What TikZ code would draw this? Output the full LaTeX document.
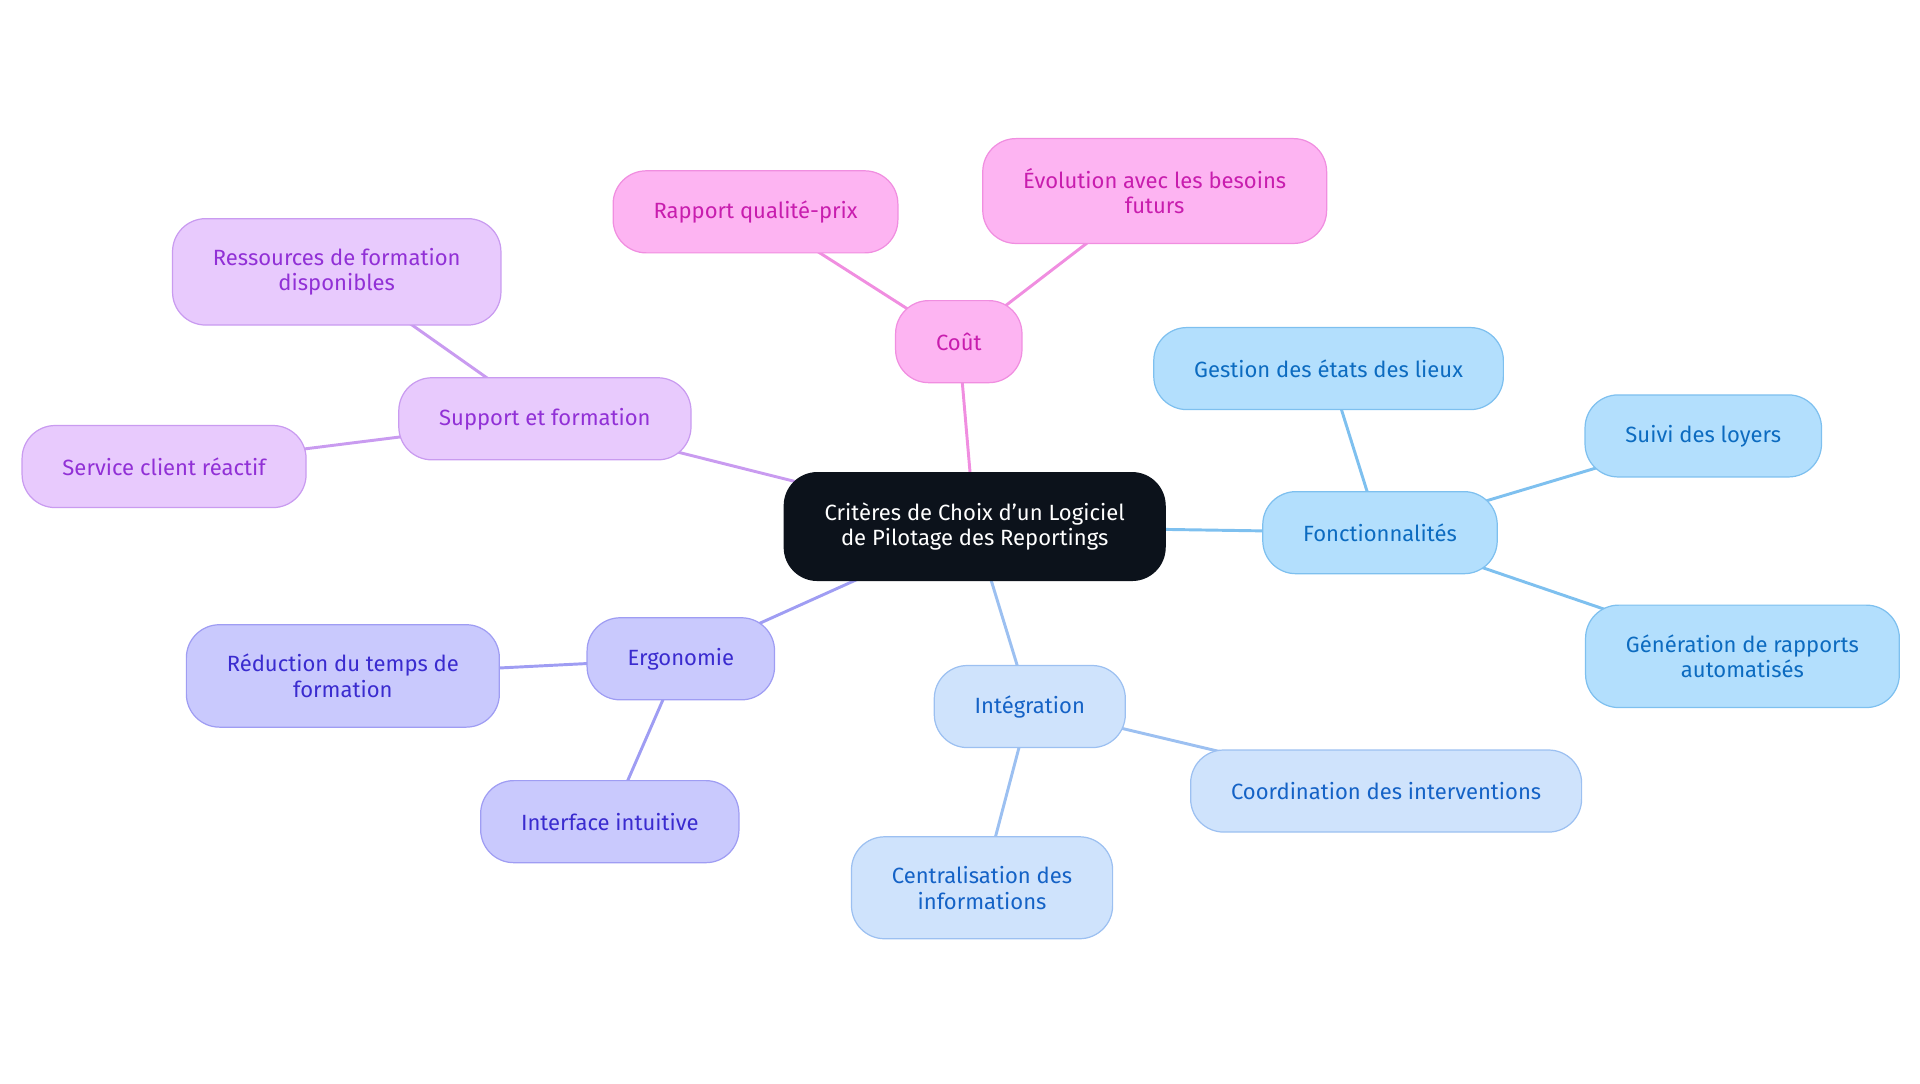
\documentclass[tikz,border=0pt]{standalone}
\usepackage{fontspec}
\setmainfont{Fira Sans}
\usepackage{xcolor}
\usetikzlibrary{positioning, backgrounds}

\definecolor{rootfill}{HTML}{0C121B}
\definecolor{pinkfill}{HTML}{FDB4F2}
\definecolor{pinkline}{HTML}{F08EE0}
\definecolor{pinktext}{HTML}{C81DAE}
\definecolor{lilacfill}{HTML}{E8CAFD}
\definecolor{lilacline}{HTML}{C99BF0}
\definecolor{lilactext}{HTML}{9130D6}
\definecolor{indigofill}{HTML}{C9C9FD}
\definecolor{indigoline}{HTML}{9F9DF3}
\definecolor{indigotext}{HTML}{3A2BCF}
\definecolor{paleblfill}{HTML}{CFE3FC}
\definecolor{paleblline}{HTML}{9CC0F1}
\definecolor{pagebltext}{HTML}{1462C6}
\definecolor{skyfill}{HTML}{B3DFFD}
\definecolor{skyline}{HTML}{7EC0EF}
\definecolor{skytext}{HTML}{0C6BC0}

\tikzset{
  bubble/.style={rounded corners=27pt, inner xsep=33pt, inner ysep=24pt,
    minimum height=67pt, align=center, line width=1pt, outer sep=0pt,
    font=\fontsize{18}{21}\selectfont},
  link/.style={line width=2.4pt}
}

\begin{document}
\begin{tikzpicture}[x=1pt,y=-1pt]
        \useasboundingbox (0,0) rectangle (1568,884.5);
        % centre
        \node[bubble, draw=rootfill, fill=rootfill, text=white, minimum height=88pt]
          (root) at (796,430) {Critères de Choix d'un Logiciel\\de Pilotage des Reportings};
        % cout
        \begin{scope}[every node/.style={bubble,draw=pinkline,fill=pinkfill,text=pinktext}]
          \node (cout) at (783,279) {Coût};
          \node (qualite) at (617,173) {Rapport qualité-prix};
          \node (evol) at (943,156) {Évolution avec les besoins\\futurs};
        \end{scope}
        % support
        \begin{scope}[every node/.style={bubble,draw=lilacline,fill=lilacfill,text=lilactext}]
          \node (support) at (445,342) {Support et formation};
          \node (ressources) at (275,222) {Ressources de formation\\disponibles};
          \node (service) at (134,381) {Service client réactif};
        \end{scope}
        % ergonomie
        \begin{scope}[every node/.style={bubble,draw=indigoline,fill=indigofill,text=indigotext}]
          \node (ergo) at (556,538) {Ergonomie};
          \node (reduction) at (280,552) {Réduction du temps de\\formation};
          \node (interface) at (498,671) {Interface intuitive};
        \end{scope}
        % integration
        \begin{scope}[every node/.style={bubble,draw=paleblline,fill=paleblfill,text=pagebltext}]
          \node (integ) at (841,577) {Intégration};
          \node (coord) at (1132,646) {Coordination des interventions};
          \node (central) at (802,725) {Centralisation des\\informations};
        \end{scope}
        % fonctionnalites
        \begin{scope}[every node/.style={bubble,draw=skyline,fill=skyfill,text=skytext}]
          \node (fonct) at (1127,435) {Fonctionnalités};
          \node (gestion) at (1085,301) {Gestion des états des lieux};
          \node (loyers) at (1391,356) {Suivi des loyers};
          \node (generation) at (1423,536) {Génération de rapports\\automatisés};
        \end{scope}
        % links go centre to centre, under the bubbles
        \begin{scope}[on background layer, every edge/.style={draw,link}]
          \path[pinkline] (root.center) edge (cout.center)
            (cout.center) edge (qualite.center) (cout.center) edge (evol.center);
          \path[lilacline] (root.center) edge (support.center)
            (support.center) edge (ressources.center) (support.center) edge (service.center);
          \path[indigoline] (root.center) edge (ergo.center)
            (ergo.center) edge (reduction.center) (ergo.center) edge (interface.center);
          \path[paleblline] (root.center) edge (integ.center)
            (integ.center) edge (coord.center) (integ.center) edge (central.center);
          \path[skyline] (root.center) edge (fonct.center)
            (fonct.center) edge (gestion.center) (fonct.center) edge (loyers.center)
            (fonct.center) edge (generation.center);
        \end{scope}
      \end{tikzpicture}
\end{document}
